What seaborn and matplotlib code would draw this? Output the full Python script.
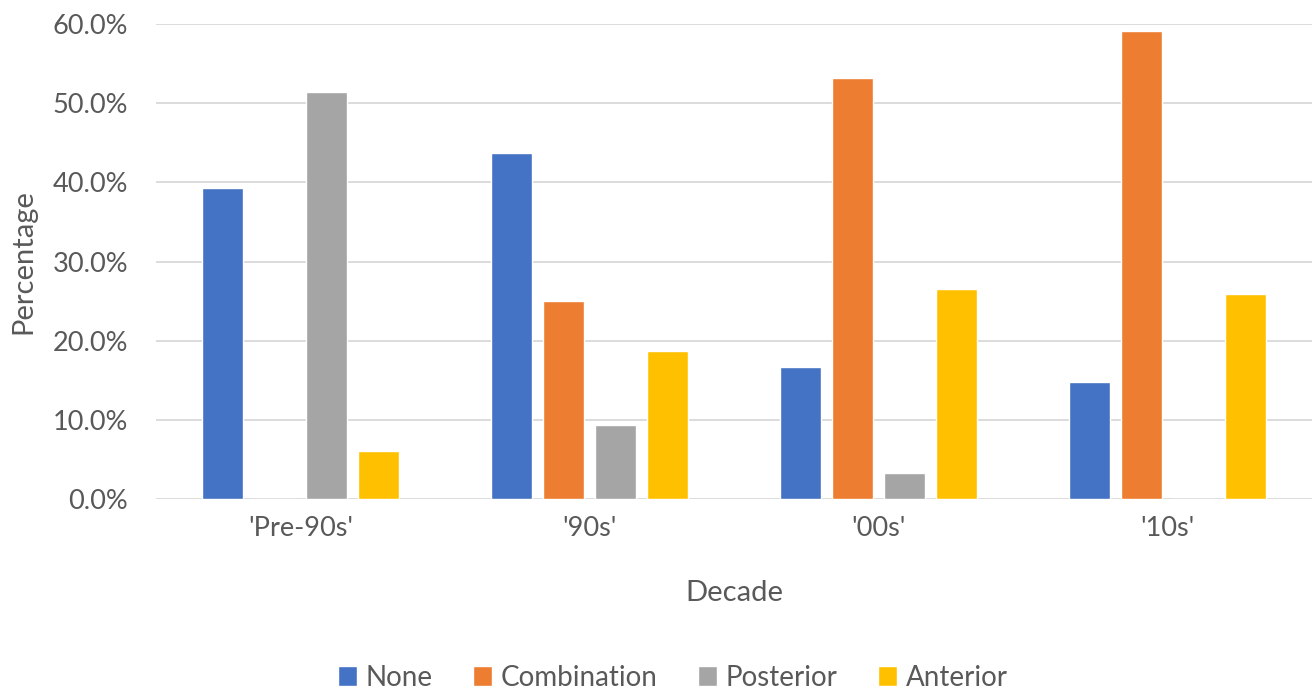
import numpy as np
import pandas as pd
import matplotlib.pyplot as plt
import seaborn as sns
from matplotlib.ticker import PercentFormatter

decades = ["'Pre-90s'", "'90s'", "'00s'", "'10s'"]
none_pct = [39.3, 43.7, 16.7, 14.8]
combination_pct = [0.0, 25.0, 53.2, 59.2]
posterior_pct = [51.4, 9.3, 3.3, 0.0]
anterior_pct = [6.0, 18.7, 26.6, 25.9]
groups = ["None", "Combination", "Posterior", "Anterior"]
colors = ["#4472C4", "#ED7D31", "#A5A5A5", "#FFC000"]

# long form table for seaborn
rows = []
for g, vals in zip(groups, [none_pct, combination_pct, posterior_pct, anterior_pct]):
    for d, v in zip(decades, vals):
        rows.append({"Decade": d, "Type": g, "Percentage": v / 100})
df = pd.DataFrame(rows)

sns.set_style("white")
plt.rcParams['font.family'] = ['Lato', 'DejaVu Sans']
txt = "#595959"

fig = plt.figure(figsize=(13.14, 6.93), dpi=100)
ax = fig.add_axes([0.1187, 0.28, 0.8798, 0.685])
sns.barplot(data=df, x="Decade", y="Percentage", hue="Type", order=decades,
            hue_order=groups, palette=colors, width=0.72, gap=0.21,
            saturation=1, errorbar=None, ax=ax, legend=True)

ax.set_ylim(0, 0.6)
ax.set_xlim(-0.5, 3.5)
ax.set_yticks(np.arange(0, 0.61, 0.1))
ax.yaxis.set_major_formatter(PercentFormatter(1.0, decimals=1))
ax.grid(axis="y", color="#d9d9d9", linewidth=1.3)
ax.set_axisbelow(True)
for s in ax.spines.values():
    s.set_visible(False)
ax.tick_params(axis="both", length=0, labelsize=19.5, colors=txt, pad=12)
ax.tick_params(axis="y", pad=20)
ax.set_xlabel("Decade", fontsize=21, color=txt, labelpad=28)
ax.set_ylabel("Percentage", fontsize=21, color=txt, labelpad=12)

handles, labels = ax.get_legend_handles_labels()
ax.get_legend().remove()
fig.legend(handles, labels, loc="center", bbox_to_anchor=(0.512, 0.022),
           ncol=4, frameon=False, fontsize=20, labelcolor=txt,
           handlelength=0.7, handleheight=0.7, handletextpad=0.3,
           columnspacing=1.45)

fig.savefig("out.png", dpi=100)
